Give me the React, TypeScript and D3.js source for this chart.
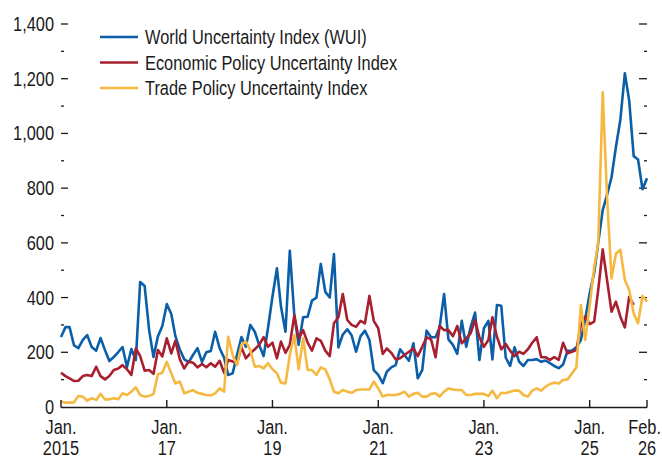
import * as d3 from 'd3';

// monthly observations, Jan. 2015 onward
const months = d3.range(134).map(i => new Date(2015, i, 1));

const wui = [
  256, 292, 292, 225, 215, 245, 263, 219, 206, 252, 208, 168,
  183, 201, 219, 146, 212, 172, 457, 442, 281, 183, 259, 296,
  376, 340, 260, 210, 175, 163, 190, 215, 165, 200, 205, 275,
  215, 180, 117, 123, 190, 256, 220, 300, 275, 227, 186, 288,
  403, 507, 367, 275, 571, 336, 227, 328, 330, 389, 400, 523,
  421, 400, 559, 218, 265, 284, 262, 202, 259, 279, 245, 135,
  117, 87, 129, 145, 153, 211, 190, 169, 233, 105, 135, 279,
  255, 255, 291, 413, 247, 227, 194, 315, 220, 291, 345, 172,
  288, 315, 174, 373, 370, 180, 150, 218, 166, 150, 172, 172,
  175, 165, 170, 160, 150, 142, 155, 205, 206, 218, 245, 320,
  416, 490, 600, 720, 775, 840, 950, 1050, 1220, 1120, 917, 905,
  796, 836,
];

const epu = [
  125, 113, 105, 95, 96, 113, 117, 113, 147, 113, 101, 113,
  135, 141, 153, 138, 117, 214, 186, 133, 135, 121, 208, 185,
  251, 196, 242, 175, 141, 166, 162, 145, 157, 145, 160, 147,
  169, 125, 172, 166, 160, 218, 178, 196, 211, 227, 255, 220,
  235, 178, 239, 198, 227, 336, 251, 281, 235, 206, 251, 242,
  206, 186, 306, 328, 413, 318, 300, 293, 315, 306, 406, 315,
  288, 194, 214, 198, 174, 178, 190, 202, 214, 186, 220, 255,
  247, 182, 296, 281, 281, 259, 296, 233, 251, 269, 318, 255,
  220, 245, 328, 257, 211, 230, 206, 186, 202, 194, 211, 235,
  255, 182, 182, 172, 182, 172, 235, 196, 202, 208, 300, 330,
  303, 312, 428, 576, 464, 348, 385, 330, 291, 403, 373,
];

const tpu = [
  19, 16, 16, 17, 40, 38, 23, 32, 26, 48, 28, 28,
  32, 28, 50, 44, 56, 72, 44, 38, 40, 48, 120, 125,
  165, 123, 86, 93, 50, 56, 62, 52, 48, 44, 42, 50,
  68, 56, 257, 190, 153, 227, 239, 208, 147, 150, 141, 160,
  138, 123, 89, 86, 190, 263, 138, 251, 135, 135, 117, 145,
  138, 101, 56, 50, 62, 56, 52, 62, 64, 64, 64, 93,
  68, 38, 44, 44, 44, 48, 56, 38, 48, 52, 38, 38,
  48, 50, 38, 56, 68, 64, 62, 62, 44, 44, 48, 48,
  48, 40, 60, 32, 52, 50, 56, 60, 60, 44, 38, 60,
  68, 60, 74, 84, 89, 86, 99, 101, 123, 145, 373, 245,
  370, 510, 600, 1150, 770, 470, 560, 575, 464, 428, 342, 306,
  406, 385,
];

const seriesNames = [
  'World Uncertainty Index (WUI)',
  'Economic Policy Uncertainty Index',
  'Trade Policy Uncertainty Index',
];
const seriesColors = ['#0a5fa8', '#a81f30', '#f5b942'];

const yMajor = d3.range(0, 1401, 200);
const yMinor = d3.range(100, 1400, 200);
const xTickDates = [
  new Date(2015, 0, 1), new Date(2017, 0, 1), new Date(2019, 0, 1),
  new Date(2021, 0, 1), new Date(2023, 0, 1), new Date(2025, 0, 1),
  new Date(2026, 1, 1),
];
const xTickTop = ['Jan.', 'Jan.', 'Jan.', 'Jan.', 'Jan.', 'Jan.', 'Feb.'];
const xTickBottom = ['2015', '17', '19', '21', '23', '25', '26'];

const W = 662, H = 458;
const FONT = "'Liberation Sans', Arial, sans-serif";
const INK = '#1a1a1a';

// narrow text: regular sans squeezed horizontally
const Txt = ({ x, y, anchor = 'start', children }:
  { x: number; y: number; anchor?: string; children: string }) => (
  <text transform={`translate(${x},${y}) scale(0.84,1)`} fontSize={19.5}
    textAnchor={anchor} fill={INK}>{children}</text>
);

export default function App() {
  const x = d3.scaleTime()
    .domain([months[0], months[months.length - 1]])
    .range([61, 647]);
  const y = d3.scaleLinear().domain([0, 1400]).range([407, 24]);

  const line = d3.line<number>()
    .x((_, i) => x(months[i]))
    .y(d => y(d));

  const allSeries = [wui, epu, tpu];
  const fmt = d3.format(',');
  const last = xTickDates.length - 1;

  return (
    <svg width={W} height={H} style={{ position: 'absolute', left: 0, top: 0, background: '#fff' }}
      fontFamily={FONT}>
      {/* left labels, ticks on both sides */}
      {yMajor.map(v => (
        <g key={'l' + v}>
          <Txt x={54} y={y(v) + 7} anchor="end">{fmt(v)}</Txt>
          {v > 0 && <line x1={61} x2={68} y1={y(v)} y2={y(v)} stroke={INK} strokeWidth={1.3} />}
          {v > 0 && <line x1={639} x2={647} y1={y(v)} y2={y(v)} stroke={INK} strokeWidth={1.3} />}
        </g>
      ))}
      {yMinor.map(v => (
        <g key={'m' + v}>
          <line x1={61} x2={64} y1={y(v)} y2={y(v)} stroke={INK} strokeWidth={1.3} />
          <line x1={644} x2={647} y1={y(v)} y2={y(v)} stroke={INK} strokeWidth={1.3} />
        </g>
      ))}

      {allSeries.map((s, k) => (
        <path key={k} d={line(s) ?? ''} fill="none" stroke={seriesColors[k]}
          strokeWidth={2.6} strokeLinejoin="round" />
      ))}

      {/* x axis */}
      <line x1={61} x2={647} y1={407.5} y2={407.5} stroke={INK} strokeWidth={1.4} />
      {xTickDates.map((d, i) => (
        <g key={'x' + i}>
          <line x1={x(d)} x2={x(d)} y1={407.5} y2={400} stroke={INK} strokeWidth={1.4} />
          {i === last
            ? <Txt x={661} y={434} anchor="end">{xTickTop[i]}</Txt>
            : <Txt x={x(d)} y={434} anchor="middle">{xTickTop[i]}</Txt>}
          <Txt x={x(d)} y={455} anchor="middle">{xTickBottom[i]}</Txt>
        </g>
      ))}

      {/* legend */}
      {seriesNames.map((n, k) => (
        <g key={'lg' + k} transform={`translate(100, ${37 + k * 25.5})`}>
          <line x1={0} x2={38} y1={0} y2={0} stroke={seriesColors[k]} strokeWidth={2.6} />
          <Txt x={45} y={7}>{n}</Txt>
        </g>
      ))}
    </svg>
  );
}
